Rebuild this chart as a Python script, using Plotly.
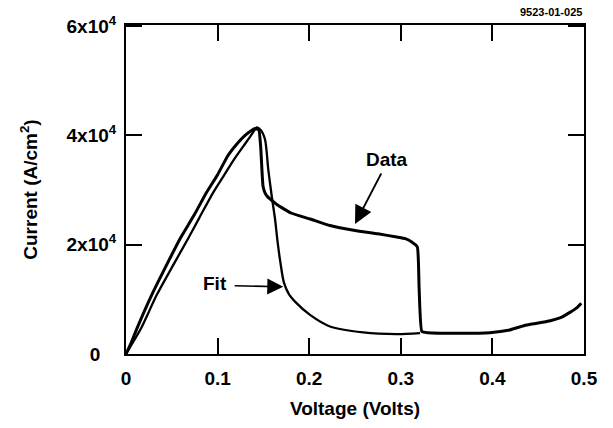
import plotly.graph_objects as go

# ---- data ----
data_v = [0.0, 0.005, 0.012, 0.028, 0.046, 0.059, 0.075, 0.088, 0.100, 0.111, 0.122, 0.130, 0.137, 0.141,
          0.145, 0.147, 0.1496, 0.152, 0.155, 0.160, 0.165, 0.180, 0.201, 0.2227, 0.250, 0.275, 0.2955,
          0.305, 0.312, 0.318, 0.320, 0.323, 0.330, 0.360, 0.397, 0.419, 0.437, 0.458, 0.477, 0.4917, 0.497]
data_j = [0, 1800, 4700, 10780, 16850, 21090, 25600, 29580, 32800, 36230, 38600, 40000, 40900, 41270,
          41000, 38000, 30700, 29400, 28700, 28000, 27300, 25800, 24700, 23500, 22600, 22000, 21400,
          21100, 20500, 19600, 12000, 4100, 3900, 3800, 3900, 4400, 5300, 5900, 6850, 8400, 9300]

fit_v = [0.0, 0.006, 0.0165, 0.0335, 0.0535, 0.0677, 0.080, 0.0953, 0.107, 0.118, 0.128, 0.135, 0.140, 0.1427,
         0.147, 0.1517, 0.1553, 0.159, 0.1627, 0.1655, 0.1685, 0.1725, 0.178, 0.1845, 0.2009, 0.2227, 0.259,
         0.2955, 0.321]
fit_j = [0, 1700, 4700, 10780, 16850, 21090, 24900, 29580, 32700, 35630, 38000, 39630, 40900, 41450,
         41000, 39300, 33800, 29000, 24700, 20500, 16800, 13000, 10900, 9580, 7150, 5040, 3950,
         3640, 3820]

x_ticks = [0, 0.1, 0.2, 0.3, 0.4, 0.5]
x_ticktext = ["0", "0.1", "0.2", "0.3", "0.4", "0.5"]
y_ticks = [0, 20000, 40000, 60000]
y_ticktext = ["0\u00a0\u00a0\u00a0", "2x10<sup>4</sup>", "4x10<sup>4</sup>", "6x10<sup>4</sup>"]

FONT = "Liberation Sans, Arial, sans-serif"
FS = 19

fig = go.Figure()
fig.add_trace(go.Scatter(x=fit_v, y=fit_j, mode="lines", name="Fit",
                         line=dict(color="black", width=2.3, shape="spline", smoothing=0.8)))
fig.add_trace(go.Scatter(x=data_v, y=data_j, mode="lines", name="Data",
                         line=dict(color="black", width=3, shape="spline", smoothing=0.4)))

fig.add_annotation(x=0.25, y=23800, ax=0.2795, ay=33300, xref="x", yref="y", axref="x", ayref="y",
                   showarrow=True, arrowhead=2, arrowsize=2.0, arrowwidth=1.8, arrowcolor="black", text="")
fig.add_annotation(x=0.2846, y=35500, xref="x", yref="y", text="<b>Data</b>", showarrow=False,
                   font=dict(family=FONT, size=FS, color="black"))
fig.add_annotation(x=0.1717, y=12300, ax=0.117, ay=12500, xref="x", yref="y", axref="x", ayref="y",
                   showarrow=True, arrowhead=2, arrowsize=2.0, arrowwidth=1.6, arrowcolor="black", text="")
fig.add_annotation(x=0.0972, y=12900, xref="x", yref="y", text="<b>Fit</b>", showarrow=False,
                   font=dict(family=FONT, size=FS, color="black"))
fig.add_annotation(x=1.0, y=1.0, xref="paper", yref="paper", xanchor="right", yanchor="bottom",
                   yshift=5, text="<b>9523-01-025</b>", showarrow=False,
                   font=dict(family=FONT, size=11, color="black"))

axis_common = dict(showline=True, linewidth=2, linecolor="black", mirror="ticks",
                   ticks="inside", ticklen=16, tickwidth=2, tickcolor="black",
                   showgrid=False, zeroline=False,
                   tickfont=dict(family=FONT, size=FS, color="black", weight="bold"))

fig.update_xaxes(range=[0, 0.5], tickvals=x_ticks, ticktext=x_ticktext, ticklabelstandoff=6,
                 title=dict(text="<b>Voltage (Volts)</b>", font=dict(family=FONT, size=FS, color="black"),
                            standoff=14),
                 **axis_common)
fig.update_yaxes(range=[0, 60200], tickvals=y_ticks, ticktext=y_ticktext, ticklabelstandoff=4,
                 title=dict(text="<b>Current (A/cm<sup>2</sup>)</b>", font=dict(family=FONT, size=FS, color="black"),
                            standoff=24),
                 **axis_common)

fig.update_layout(width=613, height=428, margin=dict(l=126, r=29, t=25, b=72),
                  paper_bgcolor="white", plot_bgcolor="white", showlegend=False,
                  font=dict(family=FONT, color="black"))

fig.write_html("out.html")
